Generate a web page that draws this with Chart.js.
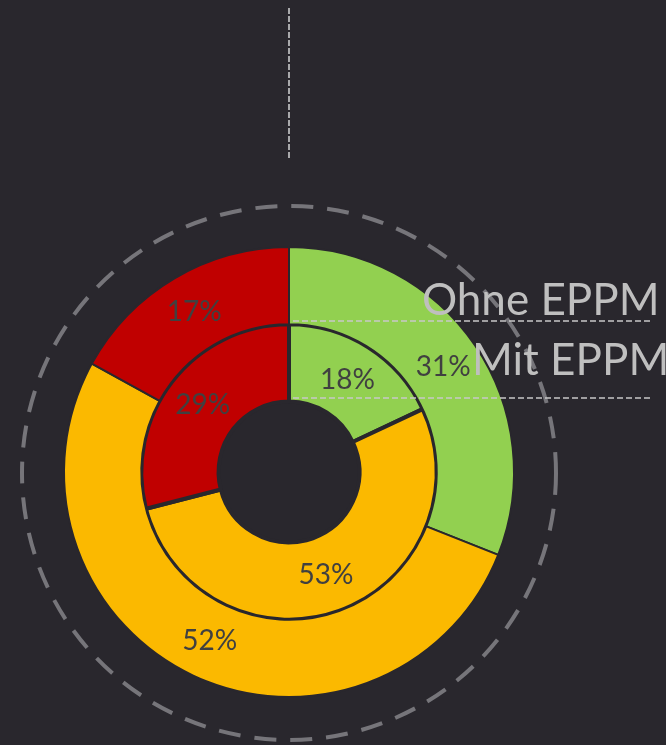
<!DOCTYPE html>
<html>
<head>
<meta charset="utf-8">
<script src="https://cdn.jsdelivr.net/npm/chart.js@4"></script>
<style>
  html, body { margin: 0; padding: 0; background: #29272d; overflow: hidden; }
  #wrap { position: relative; width: 666px; height: 745px; }
  #chart { position: absolute; left: 0; top: 0; }
  .serie {
    position: absolute; white-space: nowrap;
    font-family: Lato, sans-serif; font-size: 44px; line-height: 44px;
    color: #bfbfbf;
  }
</style>
</head>
<body>
<div id="wrap">
  <canvas id="chart" width="666" height="745"></canvas>
  <div class="serie" id="lblOhne" style="left:422px; top:276px;"></div>
  <div class="serie" id="lblMit" style="left:472px; top:336px;"></div>
</div>
<script>
// Daten (Anteile in %)
const kategorien = ['Grün', 'Gelb', 'Rot'];
const farben = ['#92d050', '#fbb900', '#c00000'];
const serienNamen = ['Ohne EPPM', 'Mit EPPM'];
const ohneEppm = [31, 52, 17];   // äußerer Ring
const mitEppm = [18, 53, 29];    // innerer Ring

const BG = '#29272d';

document.getElementById('lblOhne').textContent = serienNamen[0];
document.getElementById('lblMit').textContent = serienNamen[1];

// Deko: gestrichelter Kreis, senkrechte Linie, Unterstriche, Prozentwerte
const dekoPlugin = {
    id: 'deko',
    beforeDatasetsDraw(chart) {
        const ctx = chart.ctx;
        const arc = chart.getDatasetMeta(0).data[0];
        const cx = arc.x, cy = arc.y;
        ctx.save();
        // gestrichelter Außenkreis
        ctx.strokeStyle = '#76757a';
        ctx.lineWidth = 4;
        ctx.setLineDash([22, 14]);
        ctx.beginPath();
        ctx.arc(cx, cy + 1, 267, 0, Math.PI * 2);
        ctx.stroke();
        // senkrechte Linie oben
        ctx.strokeStyle = '#a9a9ab';
        ctx.lineWidth = 2;
        ctx.setLineDash([6, 2]);
        ctx.beginPath();
        ctx.moveTo(cx, 8);
        ctx.lineTo(cx, 160);
        ctx.stroke();
        ctx.restore();
    },
    afterDraw(chart) {
        const ctx = chart.ctx;
        const arc = chart.getDatasetMeta(0).data[0];
        const cx = arc.x;
        ctx.save();
        // Unterstriche der Serienbeschriftungen
        ctx.strokeStyle = '#c8c8c8';
        ctx.lineWidth = 1.5;
        ctx.setLineDash([6, 3]);
        [321, 398].forEach(y => {
            ctx.beginPath();
            ctx.moveTo(cx + 4, y);
            ctx.lineTo(650, y);
            ctx.stroke();
        });
        ctx.setLineDash([]);
        // Prozentwerte in der Mitte jedes Segments
        ctx.fillStyle = '#404040';
        ctx.font = '28px Lato, sans-serif';
        ctx.textAlign = 'center';
        ctx.textBaseline = 'middle';
        chart.data.datasets.forEach((ds, i) => {
            chart.getDatasetMeta(i).data.forEach((el, j) => {
                const p = el.getCenterPoint();
                ctx.fillText(ds.data[j] + '%', p.x, p.y);
            });
        });
        ctx.restore();
    }
};

new Chart(document.getElementById('chart'), {
    type: 'doughnut',
    data: {
        labels: kategorien,
        datasets: [
            {
                label: serienNamen[0],
                data: ohneEppm,
                backgroundColor: farben,
                borderColor: BG,
                borderWidth: 2
            },
            {
                label: serienNamen[1],
                data: mitEppm,
                backgroundColor: farben,
                borderColor: BG,
                borderWidth: 4
            }
        ]
    },
    options: {
        responsive: false,
        animation: false,
        cutout: '31.3%',
        layout: { padding: { left: 63, right: 151, top: 246, bottom: 47 } },
        plugins: {
            legend: { display: false },
            tooltip: { enabled: false }
        }
    },
    plugins: [dekoPlugin]
});
</script>
</body>
</html>
